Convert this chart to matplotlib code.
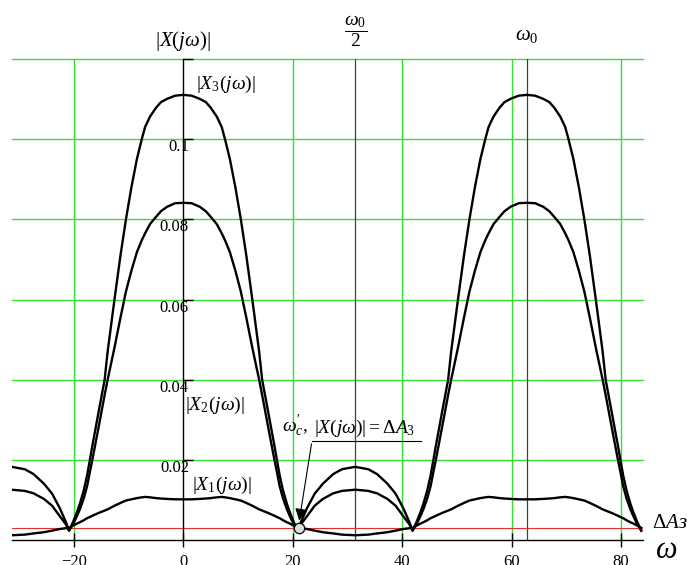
import matplotlib
matplotlib.use('Agg')
import matplotlib.pyplot as plt

plt.rcParams['font.family'] = ['Liberation Serif', 'DejaVu Serif']
plt.rcParams['mathtext.fontset'] = 'custom'
plt.rcParams['mathtext.rm'] = 'Liberation Serif'
plt.rcParams['mathtext.it'] = 'Liberation Serif:italic'
plt.rcParams['mathtext.bf'] = 'Liberation Serif:bold'

# frequency points
w = [-31.4, -29.0, -27.4, -25.5, -24.0, -22.6, -21.5,
     -20.9, -20.1, -19.4, -18.9, -18.2, -17.6, -17.1, -16.65, -15.5, -14.4, -13.85, -12.6,
     -11.5, -10.5, -9.5, -8.5, -7.6, -7.0, -6.1, -5.0, -4.1, -3.0, -1.5,
     0.0, 1.5, 3.0, 4.1, 5.0, 6.1, 7.0, 7.6, 8.5, 9.5, 10.5, 11.5, 12.6, 13.85, 14.4,
     15.5, 16.65, 17.1, 17.6, 18.2, 18.9, 19.4, 20.1, 20.9,
     21.5, 22.6, 24.0, 25.5, 27.4, 29.0, 31.4, 33.8, 35.4, 37.3, 38.8, 40.2, 41.3,
     41.9, 42.7, 43.4, 43.9, 44.6, 45.2, 45.7, 46.15, 47.3, 48.4, 48.95, 50.2,
     51.3, 52.3, 53.3, 54.3, 55.2, 55.8, 56.7, 57.8, 58.7, 59.8, 61.3,
     62.8, 64.3, 65.8, 66.9, 67.8, 68.9, 69.8, 70.4, 71.3, 72.3, 73.3, 74.3, 75.4, 76.65, 77.2,
     78.3, 79.45, 79.9, 80.4, 81.0, 81.7, 82.2, 82.9, 83.7]

x1 = [0.00125, 0.0014, 0.0017, 0.0020, 0.0024, 0.0028, 0.0030,
      0.0031, 0.0037, 0.0042, 0.0045, 0.0050, 0.0055, 0.0058, 0.0061, 0.0068, 0.0074, 0.0077, 0.0086,
      0.0093, 0.0099, 0.0102, 0.0105, 0.0107, 0.0108, 0.0107, 0.0105, 0.0104, 0.0103, 0.0102,
      0.0102, 0.0102, 0.0103, 0.0104, 0.0105, 0.0107, 0.0108, 0.0107, 0.0105, 0.0102, 0.0099, 0.0093, 0.0086, 0.0077, 0.0074,
      0.0068, 0.0061, 0.0058, 0.0055, 0.0050, 0.0045, 0.0042, 0.0037, 0.0031,
      0.0030, 0.0028, 0.0024, 0.0020, 0.0017, 0.0014, 0.00125, 0.0014, 0.0017, 0.0020, 0.0024, 0.0028, 0.0030,
      0.0031, 0.0037, 0.0042, 0.0045, 0.0050, 0.0055, 0.0058, 0.0061, 0.0068, 0.0074, 0.0077, 0.0086,
      0.0093, 0.0099, 0.0102, 0.0105, 0.0107, 0.0108, 0.0107, 0.0105, 0.0104, 0.0103, 0.0102,
      0.0102, 0.0102, 0.0103, 0.0104, 0.0105, 0.0107, 0.0108, 0.0107, 0.0105, 0.0102, 0.0099, 0.0093, 0.0086, 0.0077, 0.0074,
      0.0068, 0.0061, 0.0058, 0.0055, 0.0050, 0.0045, 0.0042, 0.0037, 0.0031]

x2 = [0.0126, 0.0123, 0.0117, 0.0103, 0.0086, 0.0060, 0.0040,
      0.0024, 0.0042, 0.0062, 0.0078, 0.0105, 0.0135, 0.0170, 0.0200, 0.0282, 0.0362, 0.0400, 0.0480,
      0.0555, 0.0620, 0.0672, 0.0718, 0.0748, 0.0765, 0.0788, 0.0806, 0.0820, 0.0831, 0.0840,
      0.0841, 0.0840, 0.0831, 0.0820, 0.0806, 0.0788, 0.0765, 0.0748, 0.0718, 0.0672, 0.0620, 0.0555, 0.0480, 0.0400, 0.0362,
      0.0282, 0.0200, 0.0170, 0.0135, 0.0105, 0.0078, 0.0062, 0.0042, 0.0024,
      0.0040, 0.0060, 0.0086, 0.0103, 0.0117, 0.0123, 0.0126, 0.0123, 0.0117, 0.0103, 0.0086, 0.0060, 0.0040,
      0.0024, 0.0042, 0.0062, 0.0078, 0.0105, 0.0135, 0.0170, 0.0200, 0.0282, 0.0362, 0.0400, 0.0480,
      0.0555, 0.0620, 0.0672, 0.0718, 0.0748, 0.0765, 0.0788, 0.0806, 0.0820, 0.0831, 0.0840,
      0.0841, 0.0840, 0.0831, 0.0820, 0.0806, 0.0788, 0.0765, 0.0748, 0.0718, 0.0672, 0.0620, 0.0555, 0.0480, 0.0400, 0.0362,
      0.0282, 0.0200, 0.0170, 0.0135, 0.0105, 0.0078, 0.0062, 0.0042, 0.0024]

x3 = [0.0183, 0.0177, 0.0165, 0.0141, 0.0116, 0.0080, 0.0046,
      0.0024, 0.0048, 0.0072, 0.0092, 0.0125, 0.0162, 0.0200, 0.0235, 0.0320, 0.0400, 0.0470, 0.0600,
      0.0710, 0.0800, 0.0880, 0.0950, 0.1000, 0.1030, 0.1056, 0.1078, 0.1092, 0.1100, 0.1108,
      0.1110, 0.1108, 0.1100, 0.1092, 0.1078, 0.1056, 0.1030, 0.1000, 0.0950, 0.0880, 0.0800, 0.0710, 0.0600, 0.0470, 0.0400,
      0.0320, 0.0235, 0.0200, 0.0162, 0.0125, 0.0092, 0.0072, 0.0048, 0.0024,
      0.0046, 0.0080, 0.0116, 0.0141, 0.0165, 0.0177, 0.0183, 0.0177, 0.0165, 0.0141, 0.0116, 0.0080, 0.0046,
      0.0024, 0.0048, 0.0072, 0.0092, 0.0125, 0.0162, 0.0200, 0.0235, 0.0320, 0.0400, 0.0470, 0.0600,
      0.0710, 0.0800, 0.0880, 0.0950, 0.1000, 0.1030, 0.1056, 0.1078, 0.1092, 0.1100, 0.1108,
      0.1110, 0.1108, 0.1100, 0.1092, 0.1078, 0.1056, 0.1030, 0.1000, 0.0950, 0.0880, 0.0800, 0.0710, 0.0600, 0.0470, 0.0400,
      0.0320, 0.0235, 0.0200, 0.0162, 0.0125, 0.0092, 0.0072, 0.0048, 0.0024]

delta_a3 = 0.003
w0 = 62.8
w_c = 21.1

xticks = [-20, 0, 20, 40, 60, 80]
xticklabels = ['\u221220', '0', '20', '40', '60', '80']
yticks = [0.02, 0.04, 0.06, 0.08, 0.1, 0.12]
yticklabels = ['0.02', '0.04', '0.06', '0.08', '0.1', '']

fig = plt.figure(figsize=(6.87, 5.65), dpi=100)
ax = fig.add_axes([0.01694, 0.0438, 0.9188, 0.8522])
ax.set_xlim(-31.4, 84.0)
ax.set_ylim(0, 0.12)

green = '#33e033'
for t in xticks:
    if t != 0:
        ax.axvline(t, color=green, lw=1.0, zorder=1)
for t in yticks:
    ax.axhline(t, color=green, lw=1.0, zorder=1, clip_on=False)

ax.axvline(w0 / 2, color='#404040', lw=0.9, zorder=2)
ax.axvline(w0, color='#404040', lw=0.9, zorder=2)
ax.axhline(delta_a3, color='#e03030', lw=0.8, zorder=2)

for s in ['top', 'right']:
    ax.spines[s].set_visible(False)
ax.spines['left'].set_position(('data', 0))
ax.spines['bottom'].set_position(('data', 0))
ax.spines['left'].set_linewidth(1.0)
ax.spines['bottom'].set_linewidth(1.0)

ax.plot(w, x3, color='black', lw=1.7, zorder=4)
ax.plot(w, x2, color='black', lw=1.7, zorder=4)
ax.plot(w, x1, color='black', lw=1.7, zorder=4)

ax.set_xticks(xticks)
ax.set_xticklabels(xticklabels, fontsize=12)
ax.set_yticks(yticks)
ax.set_yticklabels(yticklabels, fontsize=12)
ax.tick_params(axis='x', direction='inout', length=10, width=1.0, pad=5)
ax.tick_params(axis='y', direction='in', length=7, width=1.0, pad=-4)
for lab in ax.get_yticklabels():
    lab.set_va('top')

# labels
ax.text(0, 0.1215, r'$|X(j\omega)|$', ha='center', va='bottom', fontsize=15)
ax.text(w0 / 2, 0.1225, r'$\dfrac{\omega_0}{2}$', ha='center', va='bottom', fontsize=14)
ax.text(w0, 0.1235, r'$\omega_0$', ha='center', va='bottom', fontsize=15)
ax.text(2.3, 0.1137, r'$|X_3(j\omega)|$', ha='left', va='center', fontsize=14)
ax.text(0.3, 0.0337, r'$|X_2(j\omega)|$', ha='left', va='center', fontsize=14)
ax.text(1.6, 0.0137, r'$|X_1(j\omega)|$', ha='left', va='center', fontsize=14)

# annotation of the cut-off point
ax.plot([23.5, 43.4], [0.0247, 0.0247], color='black', lw=0.8, zorder=5)
ax.annotate('', xy=(w_c, delta_a3 + 0.0012), xytext=(23.5, 0.0247),
            arrowprops=dict(arrowstyle='-|>', color='black', lw=0.8, mutation_scale=18),
            zorder=5)
ax.text(18.0, 0.0252, r"$\omega_c^{\prime}$,", ha='left', va='bottom', fontsize=14)
ax.text(23.9, 0.0252, r'$|X(j\omega)| = \Delta A_3$', ha='left', va='bottom', fontsize=14)
ax.plot([w_c], [delta_a3], 'o', ms=7.5, mfc='#dcdcdc', mec='black', mew=0.9, zorder=6, clip_on=False)

fig.text(652 / 687, 1 - 523 / 565, r'$\Delta A$з', ha='left', va='center', fontsize=15, fontstyle='italic')
fig.text(666 / 687, 1 - 551 / 565, r'$\omega$', ha='center', va='center', fontsize=22)

fig.savefig('out.png', dpi=100)
